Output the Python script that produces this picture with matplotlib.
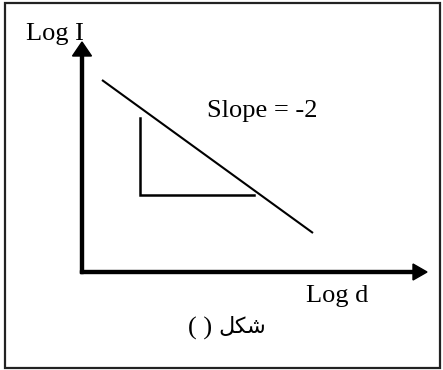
import matplotlib
matplotlib.use("Agg")
import matplotlib.pyplot as plt
from matplotlib.patches import Rectangle

# schematic diagram, units are pixels measured from the axes corner
axis_x_end = 345
axis_y_end = 230

line_x = [20, 231]
line_y = [192, 39]

tri_x = [58, 58, 172]
tri_y = [154, 77, 77]

label_y = "Log I"
label_x = "Log d"
slope_text = "Slope = -2"
# "شكل ( )" written in visual order with Arabic presentation forms,
# matplotlib does not shape right-to-left text itself
caption_paren = "( )"
caption_word = "\uFEDE\uFEDC\uFEB7"

W, H = 443, 370
ox, oy = 82, 272  # where the two axes meet, in image pixels

fig = plt.figure(figsize=(W / 100, H / 100), dpi=100)
ax = fig.add_axes([0, 0, 1, 1])
ax.set_xlim(-ox, W - ox)
ax.set_ylim(-(H - oy), oy)
ax.axis("off")

serif = ["Liberation Serif", "DejaVu Serif"]

#outer frame
ax.add_patch(Rectangle((5 - ox, oy - 368), 435, 365, fill=False,
                       edgecolor="#222222", linewidth=1.6))

#axes with arrow heads
ax.arrow(0, -1.5, 0, axis_y_end + 1.5, width=3, head_width=19, head_length=14,
         length_includes_head=True, color="black")
ax.arrow(-1.5, 0, axis_x_end + 1.5, 0, width=3, head_width=16, head_length=14,
         length_includes_head=True, color="black")

ax.plot(line_x, line_y, color="black", linewidth=1.5, solid_capstyle="butt")
ax.plot(tri_x, tri_y, color="black", linewidth=1.8, solid_joinstyle="miter")

ax.text(-27, 232, label_y, ha="center", va="baseline", fontsize=19, family=serif)
ax.text(125, 155, slope_text, ha="left", va="baseline", fontsize=19, family=serif)
ax.text(224, -30, label_x, ha="left", va="baseline", fontsize=19, family=serif)
ax.text(106, -63, caption_paren, ha="left", va="baseline", fontsize=19, family=serif)
ax.text(184, -61, caption_word, ha="right", va="baseline", fontsize=16,
        family=["DejaVu Sans"])

fig.savefig("out.png", dpi=100)
